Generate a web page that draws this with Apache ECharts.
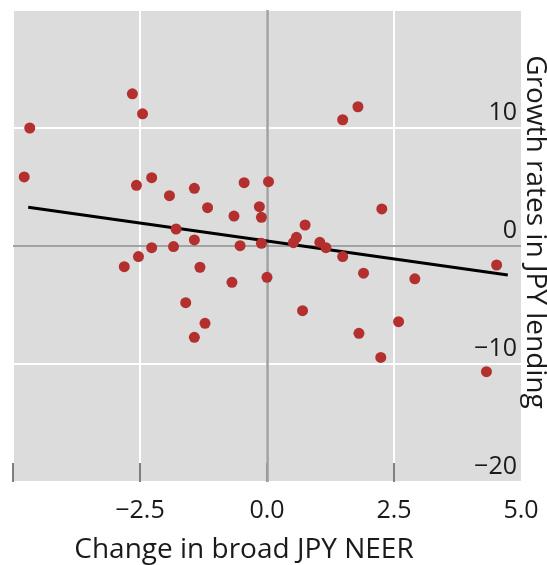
<!DOCTYPE html>
<html>
<head>
<meta charset="utf-8">
<script src="https://cdn.jsdelivr.net/npm/echarts@6/dist/echarts.min.js"></script>
<style>
  html, body { margin: 0; padding: 0; background: #fff; }
  #chart { width: 547px; height: 565px; }
</style>
</head>
<body>
<div id="chart"></div>
<script>
// change in broad JPY NEER (x) vs growth rates in JPY lending (y)
const neerChange = [
  -4.78, -4.67, -2.65, -2.45, -2.57, -2.27, -1.92, -1.79, -2.27, -1.84,
  -2.53, -2.81, -1.32, -1.43, -1.17, -1.43, -0.65, -0.45, -0.15, -0.11,
  0.03, -0.53, -0.11, 0.75, 0.58, 0.52, 1.04, 1.16, 1.49, 1.90,
  2.91, 4.52, 1.49, 1.79, 2.26, 0.0, -0.69, -1.60, -1.22, -1.43,
  0.70, 2.59, 1.81, 2.24, 4.32
];
const lendingGrowth = [
  5.85, 10.0, 12.9, 11.2, 5.14, 5.79, 4.26, 1.44, -0.14, -0.05,
  -0.9, -1.75, -1.8, 4.89, 3.25, 0.51, 2.54, 5.37, 3.33, 2.43,
  5.45, 0.03, 0.23, 1.78, 0.74, 0.28, 0.31, -0.14, -0.9, -2.3,
  -2.78, -1.61, 10.7, 11.8, 3.14, -2.65, -3.08, -4.8, -6.55, -7.74,
  -5.48, -6.41, -7.40, -9.44, -10.65
];
// fitted line end points
const fitX = [-4.70, 4.74];
const fitY = [3.28, -2.46];

const xTicks = { min: -5, max: 5, step: 2.5 };
const xTickMarks = [-5, -2.5, 0, 2.5];
const yTicks = { min: -20, max: 20, step: 10 };

const font = '"Open Sans", "Noto Sans", sans-serif';
const minus = s => s.replace('-', '\u2212');

const chart = echarts.init(document.getElementById('chart'));

chart.setOption({
  animation: false,
  grid: {
    left: 13, right: 26, top: 10, bottom: 83,
    outerBoundsMode: 'none',
    show: true,
    backgroundColor: '#dcdcdc',
    borderWidth: 0
  },
  xAxis: {
    type: 'value',
    min: xTicks.min, max: xTicks.max, interval: xTicks.step,
    name: 'Change in broad JPY NEER',
    nameLocation: 'middle',
    nameGap: 54,
    nameMoveOverlap: false,
    nameTextStyle: { fontFamily: font, fontSize: 28, color: '#1a1a1a', padding: [0, 46, 0, 0] },
    axisLine: { show: false, onZero: false },
    axisTick: {
      show: true, inside: true, length: 19, customValues: xTickMarks,
      lineStyle: { color: '#555', width: 1.5 }
    },
    axisLabel: {
      fontFamily: font, fontSize: 25, color: '#1a1a1a', margin: 16,
      hideOverlap: false,
      formatter: v => v === xTicks.min ? '' : minus(v.toFixed(1))
    },
    splitLine: { show: true, lineStyle: { color: '#ffffff', width: 2 } }
  },
  yAxis: {
    type: 'value',
    position: 'right',
    min: yTicks.min, max: yTicks.max, interval: yTicks.step,
    name: 'Growth rates in JPY lending',
    nameLocation: 'middle',
    nameRotate: -90,
    nameGap: 0,
    nameMoveOverlap: false,
    nameTextStyle: { fontFamily: font, fontSize: 28, color: '#1a1a1a', verticalAlign: 'bottom', padding: [0, 28, 0, 0] },
    axisLine: { show: false, onZero: false },
    axisTick: { show: false },
    axisLabel: {
      inside: true, fontFamily: font, fontSize: 25, color: '#1a1a1a', margin: 4,
      verticalAlign: 'bottom', hideOverlap: false, padding: [0, 0, 3, 0],
      formatter: v => v === yTicks.max ? '' : minus(String(v))
    },
    splitLine: { show: true, lineStyle: { color: '#ffffff', width: 2 } }
  },
  series: [
    {
      type: 'line',
      data: fitX.map((x, i) => [x, fitY[i]]),
      symbol: 'none',
      lineStyle: { color: '#000', width: 3 },
      z: 2,
      markLine: {
        silent: true,
        symbol: 'none',
        label: { show: false },
        z: 1,
        data: [
          { xAxis: 0, lineStyle: { color: '#a0a0a0', width: 2.5, type: 'solid' } },
          { yAxis: 0, lineStyle: { color: '#858585', width: 1.5, type: 'solid' } }
        ]
      }
    },
    {
      type: 'scatter',
      data: neerChange.map((x, i) => [x, lendingGrowth[i]]),
      symbolSize: 11,
      itemStyle: { color: '#b3302e', opacity: 1 },
      z: 3
    }
  ]
});
</script>
</body>
</html>
